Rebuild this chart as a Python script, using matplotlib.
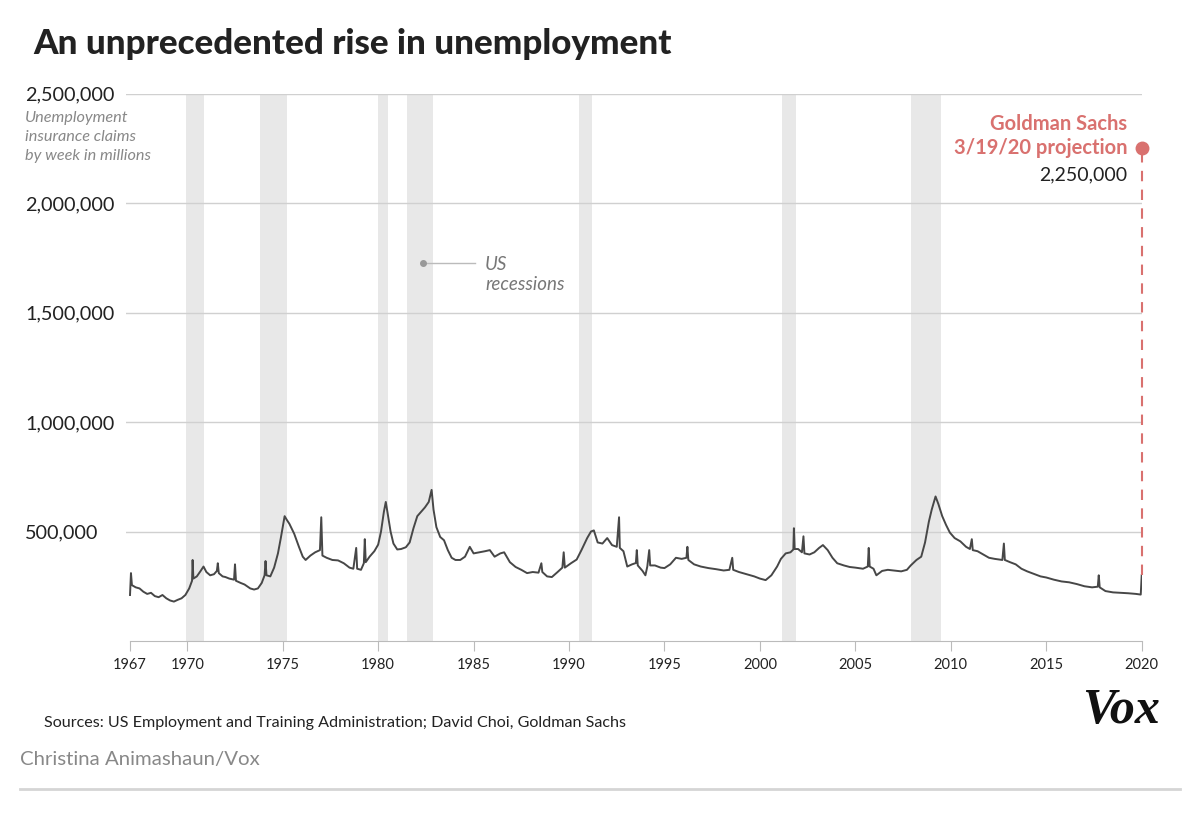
import numpy as np
import matplotlib.pyplot as plt
from matplotlib.lines import Line2D

plt.rcParams['font.family'] = ['Lato', 'DejaVu Sans']

# weekly claims (decimal year, thousands of claims)
years = [1967.00, 1967.05, 1967.10, 1967.30, 1967.50, 1967.70, 1967.90, 1968.10, 1968.30, 1968.50,
         1968.70, 1968.90, 1969.10, 1969.30, 1969.50, 1969.70, 1969.90, 1970.10, 1970.25, 1970.28,
         1970.32, 1970.50, 1970.70, 1970.85, 1971.00, 1971.20, 1971.40, 1971.55, 1971.60, 1971.65,
         1971.85, 1972.00, 1972.20, 1972.45, 1972.50, 1972.55, 1972.80, 1973.00, 1973.30, 1973.50,
         1973.70, 1973.90, 1974.05, 1974.10, 1974.15, 1974.35, 1974.55, 1974.75, 1974.90, 1975.00,
         1975.10, 1975.20, 1975.35, 1975.60, 1975.85, 1976.05, 1976.20, 1976.45, 1976.70, 1976.95,
         1977.02, 1977.08, 1977.30, 1977.60, 1977.90, 1978.20, 1978.50, 1978.70, 1978.85, 1978.90,
         1979.10, 1979.25, 1979.30, 1979.35, 1979.55, 1979.80, 1980.00, 1980.15, 1980.30, 1980.40,
         1980.50, 1980.65, 1980.80, 1981.00, 1981.20, 1981.45, 1981.65, 1981.85, 1982.05, 1982.25,
         1982.45, 1982.65, 1982.80, 1982.90, 1983.05, 1983.25, 1983.45, 1983.65, 1983.85, 1984.05,
         1984.30, 1984.55, 1984.80, 1985.00, 1985.30, 1985.60, 1985.85, 1986.10, 1986.40, 1986.60,
         1986.90, 1987.20, 1987.50, 1987.80, 1988.10, 1988.40, 1988.55, 1988.60, 1988.85, 1989.10,
         1989.40, 1989.65, 1989.72, 1989.78, 1990.10, 1990.40, 1990.65, 1990.95, 1991.15, 1991.30,
         1991.50, 1991.75, 1992.00, 1992.25, 1992.50, 1992.62, 1992.66, 1992.85, 1993.05, 1993.30,
         1993.50, 1993.55, 1993.60, 1993.85, 1994.00, 1994.10, 1994.20, 1994.25, 1994.50, 1994.80,
         1995.00, 1995.30, 1995.60, 1995.90, 1996.15, 1996.20, 1996.25, 1996.55, 1996.90, 1997.30,
         1997.70, 1998.10, 1998.40, 1998.55, 1998.60, 1998.90, 1999.30, 1999.70, 2000.00, 2000.30,
         2000.60, 2000.90, 2001.10, 2001.35, 2001.60, 2001.75, 2001.78, 2001.82, 2002.00, 2002.20,
         2002.28, 2002.33, 2002.60, 2002.85, 2003.10, 2003.30, 2003.55, 2003.80, 2004.05, 2004.40,
         2004.70, 2005.00, 2005.40, 2005.65, 2005.70, 2005.75, 2005.95, 2006.10, 2006.40, 2006.70,
         2007.00, 2007.40, 2007.70, 2007.90, 2008.20, 2008.45, 2008.65, 2008.85, 2009.00, 2009.20,
         2009.35, 2009.55, 2009.75, 2009.95, 2010.20, 2010.50, 2010.80, 2011.00, 2011.10, 2011.15,
         2011.40, 2011.70, 2012.00, 2012.30, 2012.70, 2012.78, 2012.83, 2013.10, 2013.40, 2013.70,
         2014.00, 2014.40, 2014.70, 2015.00, 2015.40, 2015.80, 2016.20, 2016.60, 2017.00, 2017.40,
         2017.70, 2017.75, 2017.80, 2018.10, 2018.50, 2018.90, 2019.30, 2019.70, 2019.95, 2020.00]
claims_k = [210, 310, 255, 245, 240, 225, 215, 220, 205, 200,
            210, 195, 185, 180, 188, 195, 210, 240, 275, 370,
            285, 295, 320, 340, 315, 300, 305, 320, 355, 310,
            295, 292, 285, 280, 350, 275, 265, 258, 240, 235,
            240, 265, 300, 365, 300, 295, 335, 400, 470, 520,
            570, 555, 535, 490, 430, 385, 370, 390, 405, 415,
            565, 390, 380, 370, 368, 355, 335, 330, 425, 330,
            325, 355, 465, 360, 385, 410, 440, 500, 590, 635,
            580, 500, 445, 418, 420, 428, 450, 515, 570, 590,
            610, 635, 690, 600, 520, 475, 460, 415, 380, 370,
            370, 385, 430, 400, 405, 410, 415, 385, 400, 405,
            360, 338, 325, 310, 315, 312, 355, 315, 295, 292,
            315, 335, 405, 335, 355, 372, 415, 470, 500, 505,
            450, 445, 470, 438, 430, 565, 425, 410, 340, 350,
            356, 415, 345, 320, 300, 340, 415, 345, 345, 335,
            333, 350, 380, 375, 380, 430, 370, 350, 340, 333,
            328, 322, 325, 380, 325, 315, 305, 295, 285, 278,
            300, 340, 375, 400, 405, 418, 515, 420, 420, 405,
            478, 400, 395, 405, 425, 438, 415, 380, 355, 345,
            338, 335, 330, 340, 425, 340, 330, 300, 320, 325,
            322, 318, 325, 345, 370, 385, 450, 545, 600, 660,
            625, 570, 530, 495, 470, 455, 430, 420, 465, 415,
            410, 395, 380, 375, 370, 445, 370, 360, 350, 330,
            318, 305, 295, 290, 280, 272, 268, 260, 250, 245,
            248, 300, 245, 228, 222, 220, 218, 215, 212, 300]

# NBER recessions (start, end)
recessions = [(1969.92, 1970.88), (1973.83, 1975.21), (1980.0, 1980.54), (1981.5, 1982.88),
              (1990.5, 1991.21), (2001.17, 2001.88), (2007.92, 2009.46)]

y_ticks = [500000, 1000000, 1500000, 2000000, 2500000]
y_labels = ['500,000', '1,000,000', '1,500,000', '2,000,000', '2,500,000']
x_ticks = [1967, 1970, 1975, 1980, 1985, 1990, 1995, 2000, 2005, 2010, 2015, 2020]

proj_year = 2020.0
proj_value = 2250000

red = '#d9716f'

fig = plt.figure(figsize=(12, 8.19), dpi=100)
ax = fig.add_axes([126/1200, 1-641/819, (1141.7-126)/1200, (641-93.5)/819])

for a, b in recessions:
    ax.axvspan(a, b, color='#e8e8e8', lw=0, zorder=0)

ax.plot(years, np.array(claims_k)*1000, color='#474747', lw=1.4, zorder=3)

# projection
ax.plot([proj_year, proj_year], [claims_k[-1]*1000, proj_value], color=red, lw=1.5,
        dashes=(5, 4), zorder=4, clip_on=False)
ax.plot([proj_year], [proj_value], 'o', color=red, ms=9, zorder=5, clip_on=False)
ax.text(2019.23, 2363000, 'Goldman Sachs', color=red, fontsize=14.5, fontweight='bold',
        ha='right', va='center')
ax.text(2019.23, 2253000, '3/19/20 projection', color=red, fontsize=14.5, fontweight='bold',
        ha='right', va='center')
ax.text(2019.23, 2130000, '2,250,000', color='#222222', fontsize=14, ha='right', va='center')

# recession key
ax.plot([1982.35, 1985.07], [1726000, 1726000], color='#bbbbbb', lw=1, zorder=4)
ax.plot([1982.35], [1726000], 'o', color='#999999', ms=4, zorder=5)
ax.text(1985.6, 1717000, 'US', color='#777777', fontsize=13.5, style='italic', va='center')
ax.text(1985.6, 1626000, 'recessions', color='#777777', fontsize=13.5, style='italic', va='center')

ax.set_xlim(1966.79, 2020.0)
ax.set_ylim(0, 2500000)
ax.set_yticks(y_ticks, y_labels)
ax.set_xticks(x_ticks, [str(x) for x in x_ticks])
ax.grid(axis='y', color='#d0d0d0', lw=1)
ax.set_axisbelow(True)

for s in ['top', 'right', 'left']:
    ax.spines[s].set_visible(False)
ax.spines['bottom'].set_color('#bbbbbb')
ax.spines['bottom'].set_bounds(1967, 2020)
ax.tick_params(axis='y', length=0, pad=72.7, labelsize=14.3, labelcolor='#222222')
for lab in ax.get_yticklabels():
    lab.set_horizontalalignment('left')
ax.tick_params(axis='x', length=7, color='#bbbbbb', labelsize=10.5, labelcolor='#222222', pad=5)

fig.text(25/1200, 1-137/819, 'Unemployment\ninsurance claims\nby week in millions', fontsize=11.7,
         style='italic', color='#888888', va='center', ha='left', linespacing=1.42)

fig.text(33/1200, 1-44/819, 'An unprecedented rise in unemployment', fontsize=25.2,
         fontweight='black', color='#222222', va='center')

fig.text(44/1200, 1-723/819, 'Sources: US Employment and Training Administration; David Choi, Goldman Sachs',
         fontsize=11.6, color='#222222', va='center')
fig.text(20/1200, 1-760/819, 'Christina Animashaun/Vox', fontsize=14.7, color='#888888', va='center')
fig.text(1160/1200, 1-711/819, 'Vox', fontsize=36, fontweight='bold', style='italic',
         family=['Liberation Serif', 'DejaVu Serif'], color='#111111', ha='right', va='center')
fig.add_artist(Line2D([20/1200, 1180/1200], [1-789/819, 1-789/819], color='#d5d5d5', lw=2))

plt.savefig('out.png', dpi=100)
